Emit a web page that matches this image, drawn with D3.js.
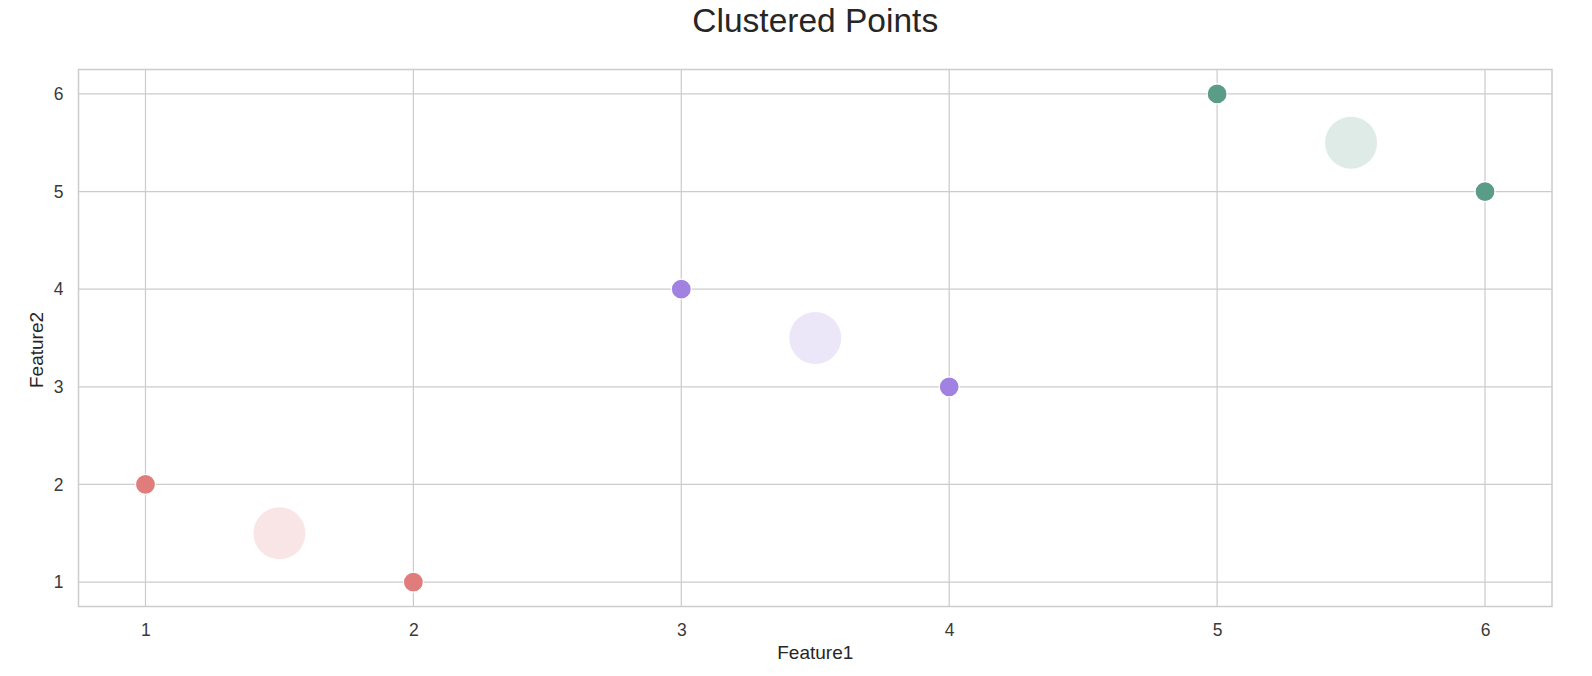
<!DOCTYPE html>
<html>
<head>
<meta charset="utf-8">
<script src="https://cdn.jsdelivr.net/npm/d3@7"></script>
<style>
  body { margin: 0; background: #fff; }
  svg { display: block; font-family: "Liberation Sans", Arial, sans-serif; }
</style>
</head>
<body>
<svg id="chart"></svg>
<script>
// data
var pointX = [1, 2, 3, 4, 5, 6];
var pointY = [2, 1, 4, 3, 6, 5];
var pointCluster = [0, 0, 1, 1, 2, 2];
var centroidX = [1.5, 3.5, 5.5];
var centroidY = [1.5, 3.5, 5.5];
var clusterColors = ["#e17c7c", "#a182e2", "#5b9c89"];
var tickValues = [1, 2, 3, 4, 5, 6];

var W = 1592, H = 676;
var margin = {top: 69.5, right: 40, bottom: 69.5, left: 78.5};

var svg = d3.select("#chart")
  .attr("width", W)
  .attr("height", H);

var x = d3.scaleLinear()
  .domain([0.75, 6.25])
  .range([margin.left, W - margin.right]);
var y = d3.scaleLinear()
  .domain([0.75, 6.25])
  .range([H - margin.bottom, margin.top]);

// grid
svg.append("g")
  .selectAll("line")
  .data(tickValues)
  .enter().append("line")
  .attr("x1", function(d) { return x(d); })
  .attr("x2", function(d) { return x(d); })
  .attr("y1", y.range()[0])
  .attr("y2", y.range()[1])
  .attr("stroke", "#cccccc")
  .attr("stroke-width", 1.25);
svg.append("g")
  .selectAll("line")
  .data(tickValues)
  .enter().append("line")
  .attr("y1", function(d) { return y(d); })
  .attr("y2", function(d) { return y(d); })
  .attr("x1", x.range()[0])
  .attr("x2", x.range()[1])
  .attr("stroke", "#cccccc")
  .attr("stroke-width", 1.25);

// frame
svg.append("rect")
  .attr("x", x.range()[0])
  .attr("y", y.range()[1])
  .attr("width", x.range()[1] - x.range()[0])
  .attr("height", y.range()[0] - y.range()[1])
  .attr("fill", "none")
  .attr("stroke", "#cccccc")
  .attr("stroke-width", 1.5);

// axes (labels only, seaborn whitegrid has no tick marks)
var xAxis = d3.axisBottom(x).tickValues(tickValues).tickSize(0).tickPadding(17).tickFormat(d3.format("d"));
svg.append("g")
  .attr("transform", "translate(0," + y.range()[0] + ")")
  .call(xAxis)
  .call(function(g) { g.select(".domain").remove(); })
  .selectAll("text")
  .attr("font-size", "17.5px")
  .attr("font-family", "Liberation Sans, Arial, sans-serif")
  .attr("fill", "#3a3a3a");

var yAxis = d3.axisLeft(y).tickValues(tickValues).tickSize(0).tickPadding(15).tickFormat(d3.format("d"));
svg.append("g")
  .attr("transform", "translate(" + x.range()[0] + ",0)")
  .call(yAxis)
  .call(function(g) { g.select(".domain").remove(); })
  .selectAll("text")
  .attr("font-size", "17.5px")
  .attr("font-family", "Liberation Sans, Arial, sans-serif")
  .attr("fill", "#3a3a3a");

// centroids
svg.append("g")
  .selectAll("circle")
  .data(centroidX)
  .enter().append("circle")
  .attr("cx", function(d) { return x(d); })
  .attr("cy", function(d, i) { return y(centroidY[i]); })
  .attr("r", 26)
  .attr("fill", function(d, i) { return clusterColors[i]; })
  .attr("fill-opacity", 0.2);

// points
svg.append("g")
  .selectAll("circle")
  .data(pointX)
  .enter().append("circle")
  .attr("cx", function(d) { return x(d); })
  .attr("cy", function(d, i) { return y(pointY[i]); })
  .attr("r", 10)
  .attr("fill", function(d, i) { return clusterColors[pointCluster[i]]; })
  .attr("stroke", "#fff")
  .attr("stroke-width", 1.2);

// labels
svg.append("text")
  .attr("x", (x.range()[0] + x.range()[1]) / 2)
  .attr("y", 32)
  .attr("text-anchor", "middle")
  .style("font-size", "33.5px")
  .style("fill", "#262626")
  .text("Clustered Points");

svg.append("text")
  .attr("x", (x.range()[0] + x.range()[1]) / 2)
  .attr("y", 659)
  .attr("text-anchor", "middle")
  .style("font-size", "19px")
  .style("fill", "#262626")
  .text("Feature1");

svg.append("text")
  .attr("transform", "translate(43,350) rotate(-90)")
  .attr("text-anchor", "middle")
  .style("font-size", "19px")
  .style("fill", "#262626")
  .text("Feature2");
</script>
</body>
</html>
